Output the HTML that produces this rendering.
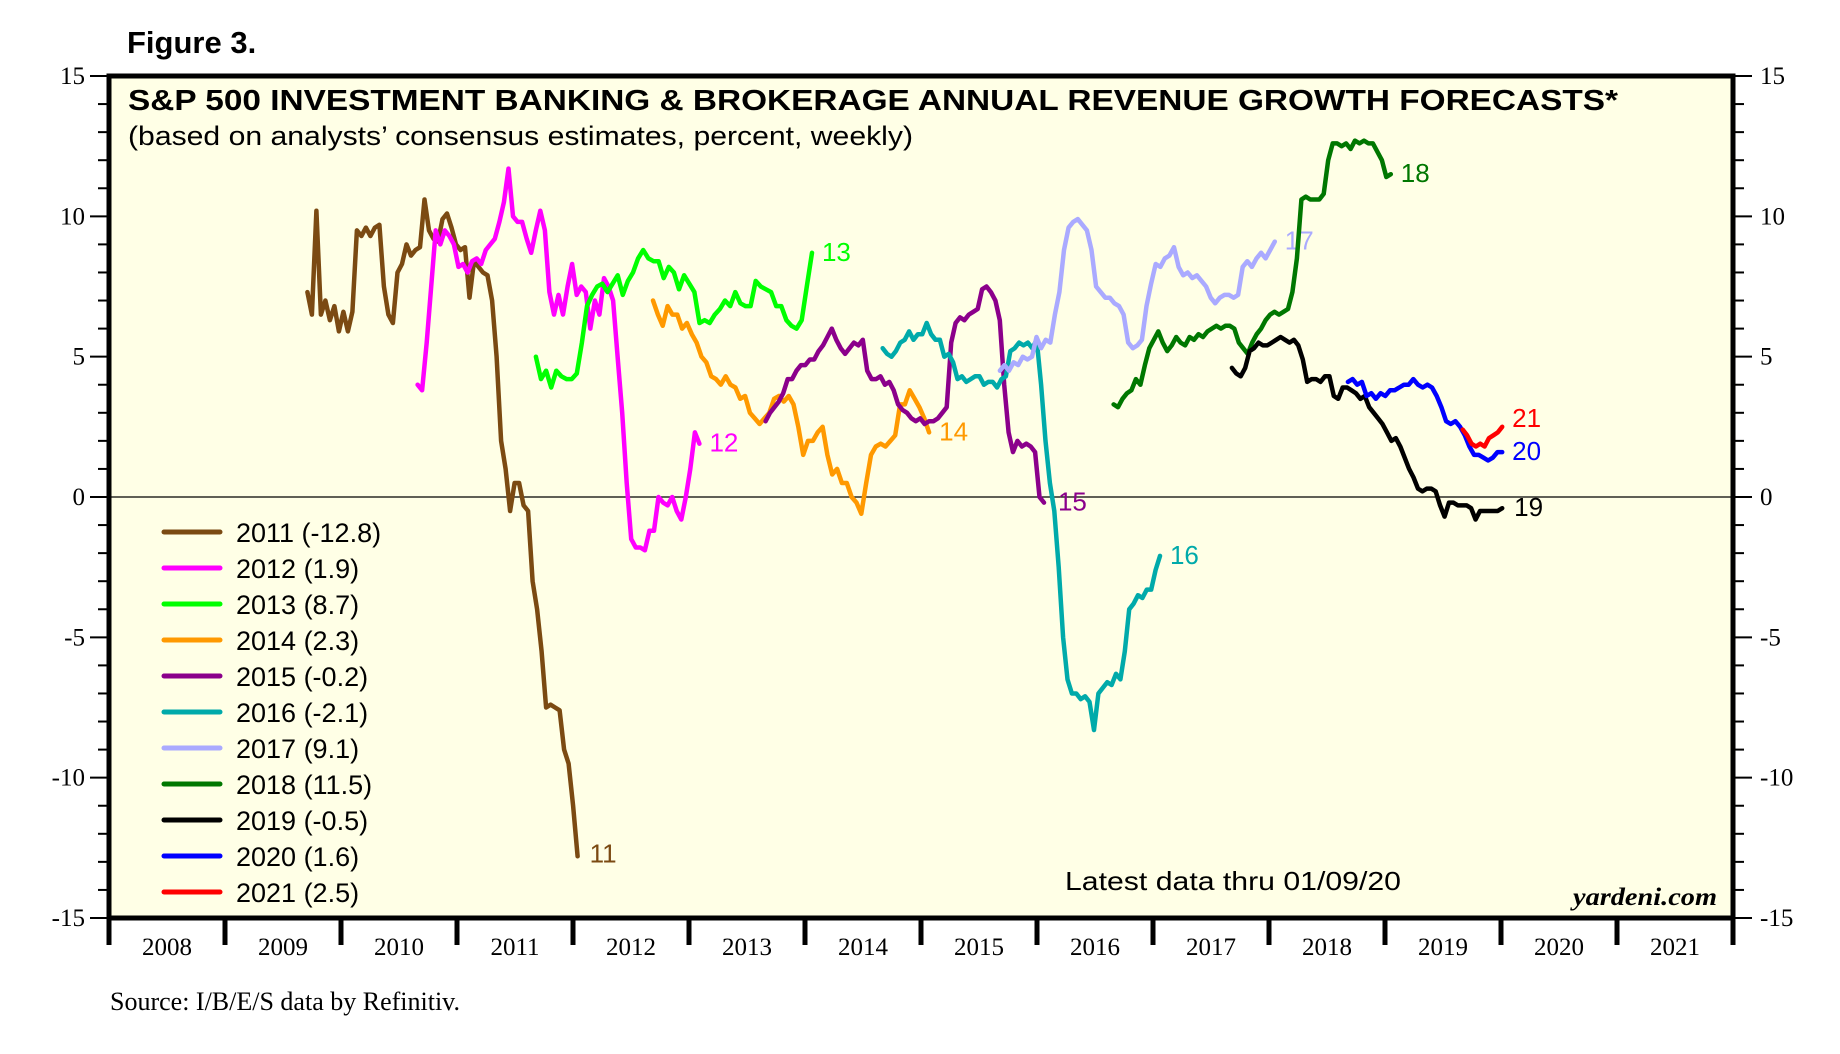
<!DOCTYPE html>
<html><head><meta charset="utf-8"><style>
html,body{margin:0;padding:0;background:#fff;}
svg{display:block;}
</style></head><body>
<svg id="chart" width="1840" height="1054" viewBox="0 0 1840 1054" xmlns="http://www.w3.org/2000/svg">
<text x="127" y="53" font-family="Liberation Sans, sans-serif" font-weight="bold" font-size="31">Figure 3.</text>
<rect x="109" y="76" width="1624" height="842" fill="#FFFFE6"/>
<g id="grid"></g>
<g id="series"></g>
<rect x="109" y="76" width="1624" height="842" fill="none" stroke="#000" stroke-width="5"/>
<text x="128" y="110" font-family="Liberation Sans, sans-serif" font-weight="bold" font-size="29" textLength="1490" lengthAdjust="spacingAndGlyphs">S&amp;P 500 INVESTMENT BANKING &amp; BROKERAGE ANNUAL REVENUE GROWTH FORECASTS*</text>
<text x="128" y="145" font-family="Liberation Sans, sans-serif" font-size="27" textLength="785" lengthAdjust="spacingAndGlyphs">(based on analysts’ consensus estimates, percent, weekly)</text>
<g id="legend"></g>
<text x="1065" y="890" font-family="Liberation Sans, sans-serif" font-size="26" textLength="336" lengthAdjust="spacingAndGlyphs">Latest data thru 01/09/20</text>
<text x="1573" y="905" font-family="Liberation Serif, serif" font-weight="bold" font-style="italic" font-size="25" textLength="144" lengthAdjust="spacingAndGlyphs">yardeni.com</text>
<text x="110" y="1010" font-family="Liberation Serif, serif" font-size="26">Source: I/B/E/S data by Refinitiv.</text>
</svg>
<script>
const yTicks=[15,10,5,0,-5,-10,-15];
const xYears=[2008,2009,2010,2011,2012,2013,2014,2015,2016,2017,2018,2019,2020,2021];
const seriesNames=["2011","2012","2013","2014","2015","2016","2017","2018","2019","2020","2021"];
const legendValues=["-12.8","1.9","8.7","2.3","-0.2","-2.1","9.1","11.5","-0.5","1.6","2.5"];
const endLabels=["11","12","13","14","15","16","17","18","19","20","21"];
const colors=["#7B4A12","#FF00FF","#00FF00","#FF9900","#8B008B","#00AAAA","#AAAAFF","#007700","#000000","#0000FF","#FF0000"];
const starts=[2009.71,2010.66,2011.68,2012.69,2013.66,2014.67,2015.68,2016.66,2017.68,2018.68,2019.67];
const ends=[2012.04,2013.09,2014.06,2015.07,2016.06,2017.06,2018.05,2019.05,2020.01,2020.01,2020.01];
const v2011=[7.3,6.5,10.2,6.5,7,6.3,6.8,5.9,6.6,5.9,6.6,9.5,9.3,9.6,9.3,9.6,9.7,7.5,6.5,6.2,8,8.3,9,8.6,8.8,8.9,10.6,9.5,9.2,9.1,9.9,10.1,9.6,9,8.8,8.9,7.1,8.4,8.2,8,7.9,7,5,2,1,-0.5,0.5,0.5,-0.3,-0.5,-3,-4,-5.5,-7.5,-7.4,-7.5,-7.6,-9,-9.5,-11,-12.8];
const v2012=[4,3.8,5.5,7.5,9.5,9,9.5,9.3,9,8.2,8.3,8,8.4,8.5,8.3,8.8,9,9.2,9.8,10.5,11.7,10,9.8,9.8,9.2,8.7,9.5,10.2,9.5,7.3,6.5,7.2,6.5,7.5,8.3,7.2,7.5,7.3,6,7,6.5,7.8,7.5,7,5,3,0.5,-1.5,-1.8,-1.8,-1.9,-1.2,-1.2,0,-0.2,-0.3,0,-0.5,-0.8,0,1,2.3,1.9];
const v2013=[5,4.2,4.5,3.9,4.5,4.3,4.2,4.2,4.4,5.5,6.8,7.2,7.5,7.6,7.3,7.6,7.9,7.2,7.7,8,8.5,8.8,8.5,8.4,8.4,7.8,8.2,8,7.4,7.9,7.6,7.3,6.2,6.3,6.2,6.5,6.7,7,6.8,7.3,6.9,6.8,6.8,7.7,7.5,7.4,7.3,6.8,6.8,6.3,6.1,6,6.3,7.5,8.7];
const v2014=[7,6.5,6.1,6.8,6.5,6.5,6,6.2,5.8,5.5,5,4.8,4.3,4.2,4,4.3,4,3.9,3.5,3.6,3,2.8,2.6,2.8,3,3.5,3.6,3.4,3.6,3.3,2.5,1.5,2,2,2.3,2.5,1.5,0.8,1,0.5,0.5,0,-0.2,-0.6,0.5,1.5,1.8,1.9,1.8,2,2.2,3.3,3.3,3.8,3.5,3.2,2.8,2.3];
const v2015=[2.7,3,3.2,3.4,3.7,4.2,4.2,4.5,4.7,4.7,4.9,4.9,5.2,5.4,5.7,6,5.6,5.3,5.1,5.3,5.5,5.4,5.6,4.5,4.2,4.2,4.3,4,4.1,3.8,3.3,3.1,3,2.8,2.7,2.8,2.6,2.7,2.7,2.8,3,3.2,5.5,6.2,6.4,6.3,6.5,6.6,6.7,7.4,7.5,7.3,7,6.3,4,2.3,1.6,2,1.8,1.9,1.8,1.6,0,-0.2];
const v2016=[5.3,5.1,5,5.2,5.5,5.6,5.9,5.6,5.8,5.8,6.2,5.8,5.6,5.6,5,5.1,4.8,4.2,4.3,4.1,4.2,4.3,4.3,4,4.1,4.1,3.9,4.2,4.3,5.2,5.3,5.5,5.4,5.5,5.3,5.6,4,2,0.5,-0.5,-2.5,-5,-6.5,-7,-7,-7.2,-7.1,-7.3,-8.3,-7,-6.8,-6.6,-6.7,-6.3,-6.5,-5.5,-4,-3.8,-3.5,-3.6,-3.3,-3.3,-2.6,-2.1];
const v2017=[4.5,4.7,4.5,4.8,4.7,5,4.9,5,5.7,5.3,5.6,5.5,6.5,7.3,8.8,9.6,9.8,9.9,9.7,9.5,8.8,7.5,7.3,7.1,7.1,6.9,6.8,6.5,5.5,5.3,5.4,5.6,6.8,7.6,8.3,8.2,8.5,8.6,8.9,8.2,7.9,8,7.8,7.9,7.7,7.5,7.1,6.9,7.1,7.2,7.2,7.1,7.2,8.2,8.4,8.2,8.5,8.7,8.5,8.8,9.1];
const v2018=[3.3,3.2,3.5,3.7,3.8,4.2,4,4.7,5.3,5.6,5.9,5.5,5.2,5.4,5.7,5.5,5.4,5.7,5.6,5.8,5.7,5.9,6,6.1,6,6.1,6.1,6,5.5,5.3,5.1,5.5,5.8,6,6.3,6.5,6.6,6.5,6.6,6.7,7.3,8.5,10.6,10.7,10.6,10.6,10.6,10.8,12,12.6,12.6,12.5,12.6,12.4,12.7,12.6,12.7,12.6,12.6,12.3,12,11.4,11.5];
const v2019=[4.6,4.4,4.3,4.6,5.2,5.3,5.5,5.4,5.4,5.5,5.6,5.7,5.6,5.5,5.6,5.4,4.9,4.1,4.2,4.2,4.1,4.3,4.3,3.6,3.5,3.9,3.9,3.8,3.7,3.5,3.6,3.2,3,2.8,2.6,2.3,2,2.1,1.8,1.4,1,0.7,0.3,0.2,0.3,0.3,0.2,-0.3,-0.7,-0.2,-0.2,-0.3,-0.3,-0.3,-0.4,-0.8,-0.5,-0.5,-0.5,-0.5,-0.5,-0.4];
const v2020=[4.1,4.2,4,4.1,3.6,3.7,3.5,3.7,3.6,3.8,3.8,3.9,4,4,4.2,4,3.9,4,3.9,3.6,3.2,2.7,2.6,2.7,2.5,2.2,1.8,1.5,1.5,1.4,1.3,1.4,1.6,1.6];
const v2021=[2.4,2.2,1.9,1.8,1.9,1.8,2.1,2.2,2.3,2.5];
const allValues=[v2011,v2012,v2013,v2014,v2015,v2016,v2017,v2018,v2019,v2020,v2021];

const NS="http://www.w3.org/2000/svg";
const L=109,R=1733,T=76,B=918;
function xScale(yr){return L+(yr-2008)/14*(R-L);}
function yScale(v){return T+(15-v)/30*(B-T);}
function mk(tag,attrs,parent){const e=document.createElementNS(NS,tag);for(const k in attrs)e.setAttribute(k,attrs[k]);parent.appendChild(e);return e;}
const svg=document.getElementById('chart');
const grid=document.getElementById('grid');
const ser=document.getElementById('series');
const leg=document.getElementById('legend');

const z=mk('line',{x1:L,x2:R,y1:yScale(0),y2:yScale(0),stroke:'#000','stroke-width':1.2},grid);



for(let v=-15;v<=15;v++){
  const major=v%5===0;const len=major?19:11;
  const t1=mk('line',{x1:L-len,x2:L,y1:yScale(v),y2:yScale(v),stroke:'#000','stroke-width':2},svg);
  
  
  const t2=mk('line',{x1:R,x2:R+len,y1:yScale(v),y2:yScale(v),stroke:'#000','stroke-width':2},svg);
  
  
}
yTicks.forEach(v=>{
  const a=mk('text',{x:L-24,y:yScale(v)+8,'text-anchor':'end','font-family':'Liberation Serif, serif','font-size':25},svg);
  a.textContent=String(v);
  
  
  const b=mk('text',{x:R+27,y:yScale(v)+8,'font-family':'Liberation Serif, serif','font-size':25},svg);
  b.textContent=String(v);
  
  
});
for(let i=0;i<=xYears.length;i++){
  const yr=2008+i;
  const t=mk('line',{x1:xScale(yr),x2:xScale(yr),y1:B,y2:B+27,stroke:'#000','stroke-width':5},svg);
  
  
}
xYears.forEach(yr=>{
  const t=mk('text',{x:xScale(yr+0.5),y:B+37,'text-anchor':'middle','font-family':'Liberation Serif, serif','font-size':25},svg);
  t.textContent=String(yr);
  
  
});

const labelOffsets=[[12,6],[10,8],[10,8],[10,8],[14,8],[10,8],[10,8],[10,8],[12,8],[10,8],[10,0]];
allValues.forEach((vals,si)=>{
  const n=vals.length;const pts=[];
  for(let i=0;i<n;i++){const yr=starts[si]+i*(ends[si]-starts[si])/(n-1);pts.push(xScale(yr).toFixed(1)+','+yScale(vals[i]).toFixed(1));}
  const p=mk('polyline',{points:pts.join(' '),fill:'none',stroke:colors[si],'stroke-width':4.5,'stroke-linejoin':'round','stroke-linecap':'round'},ser);
  
  
  const lx=xScale(ends[si])+labelOffsets[si][0];
  const ly=yScale(vals[n-1])+labelOffsets[si][1];
  const t=mk('text',{x:lx,y:ly,fill:colors[si],'font-family':'Liberation Sans, sans-serif','font-size':26},ser);
  t.textContent=endLabels[si];
  
  
});

seriesNames.forEach((nm,i)=>{
  const y=532+i*36;
  const g=mk('g',{},leg);
  
  
  mk('line',{x1:164,x2:220,y1:y,y2:y,stroke:colors[i],'stroke-width':5,'stroke-linecap':'round'},g);
  const t=mk('text',{x:236,y:y+10,'font-family':'Liberation Sans, sans-serif','font-size':27},g);
  t.textContent=nm+' ('+legendValues[i]+')';
});
</script>
</body></html>
